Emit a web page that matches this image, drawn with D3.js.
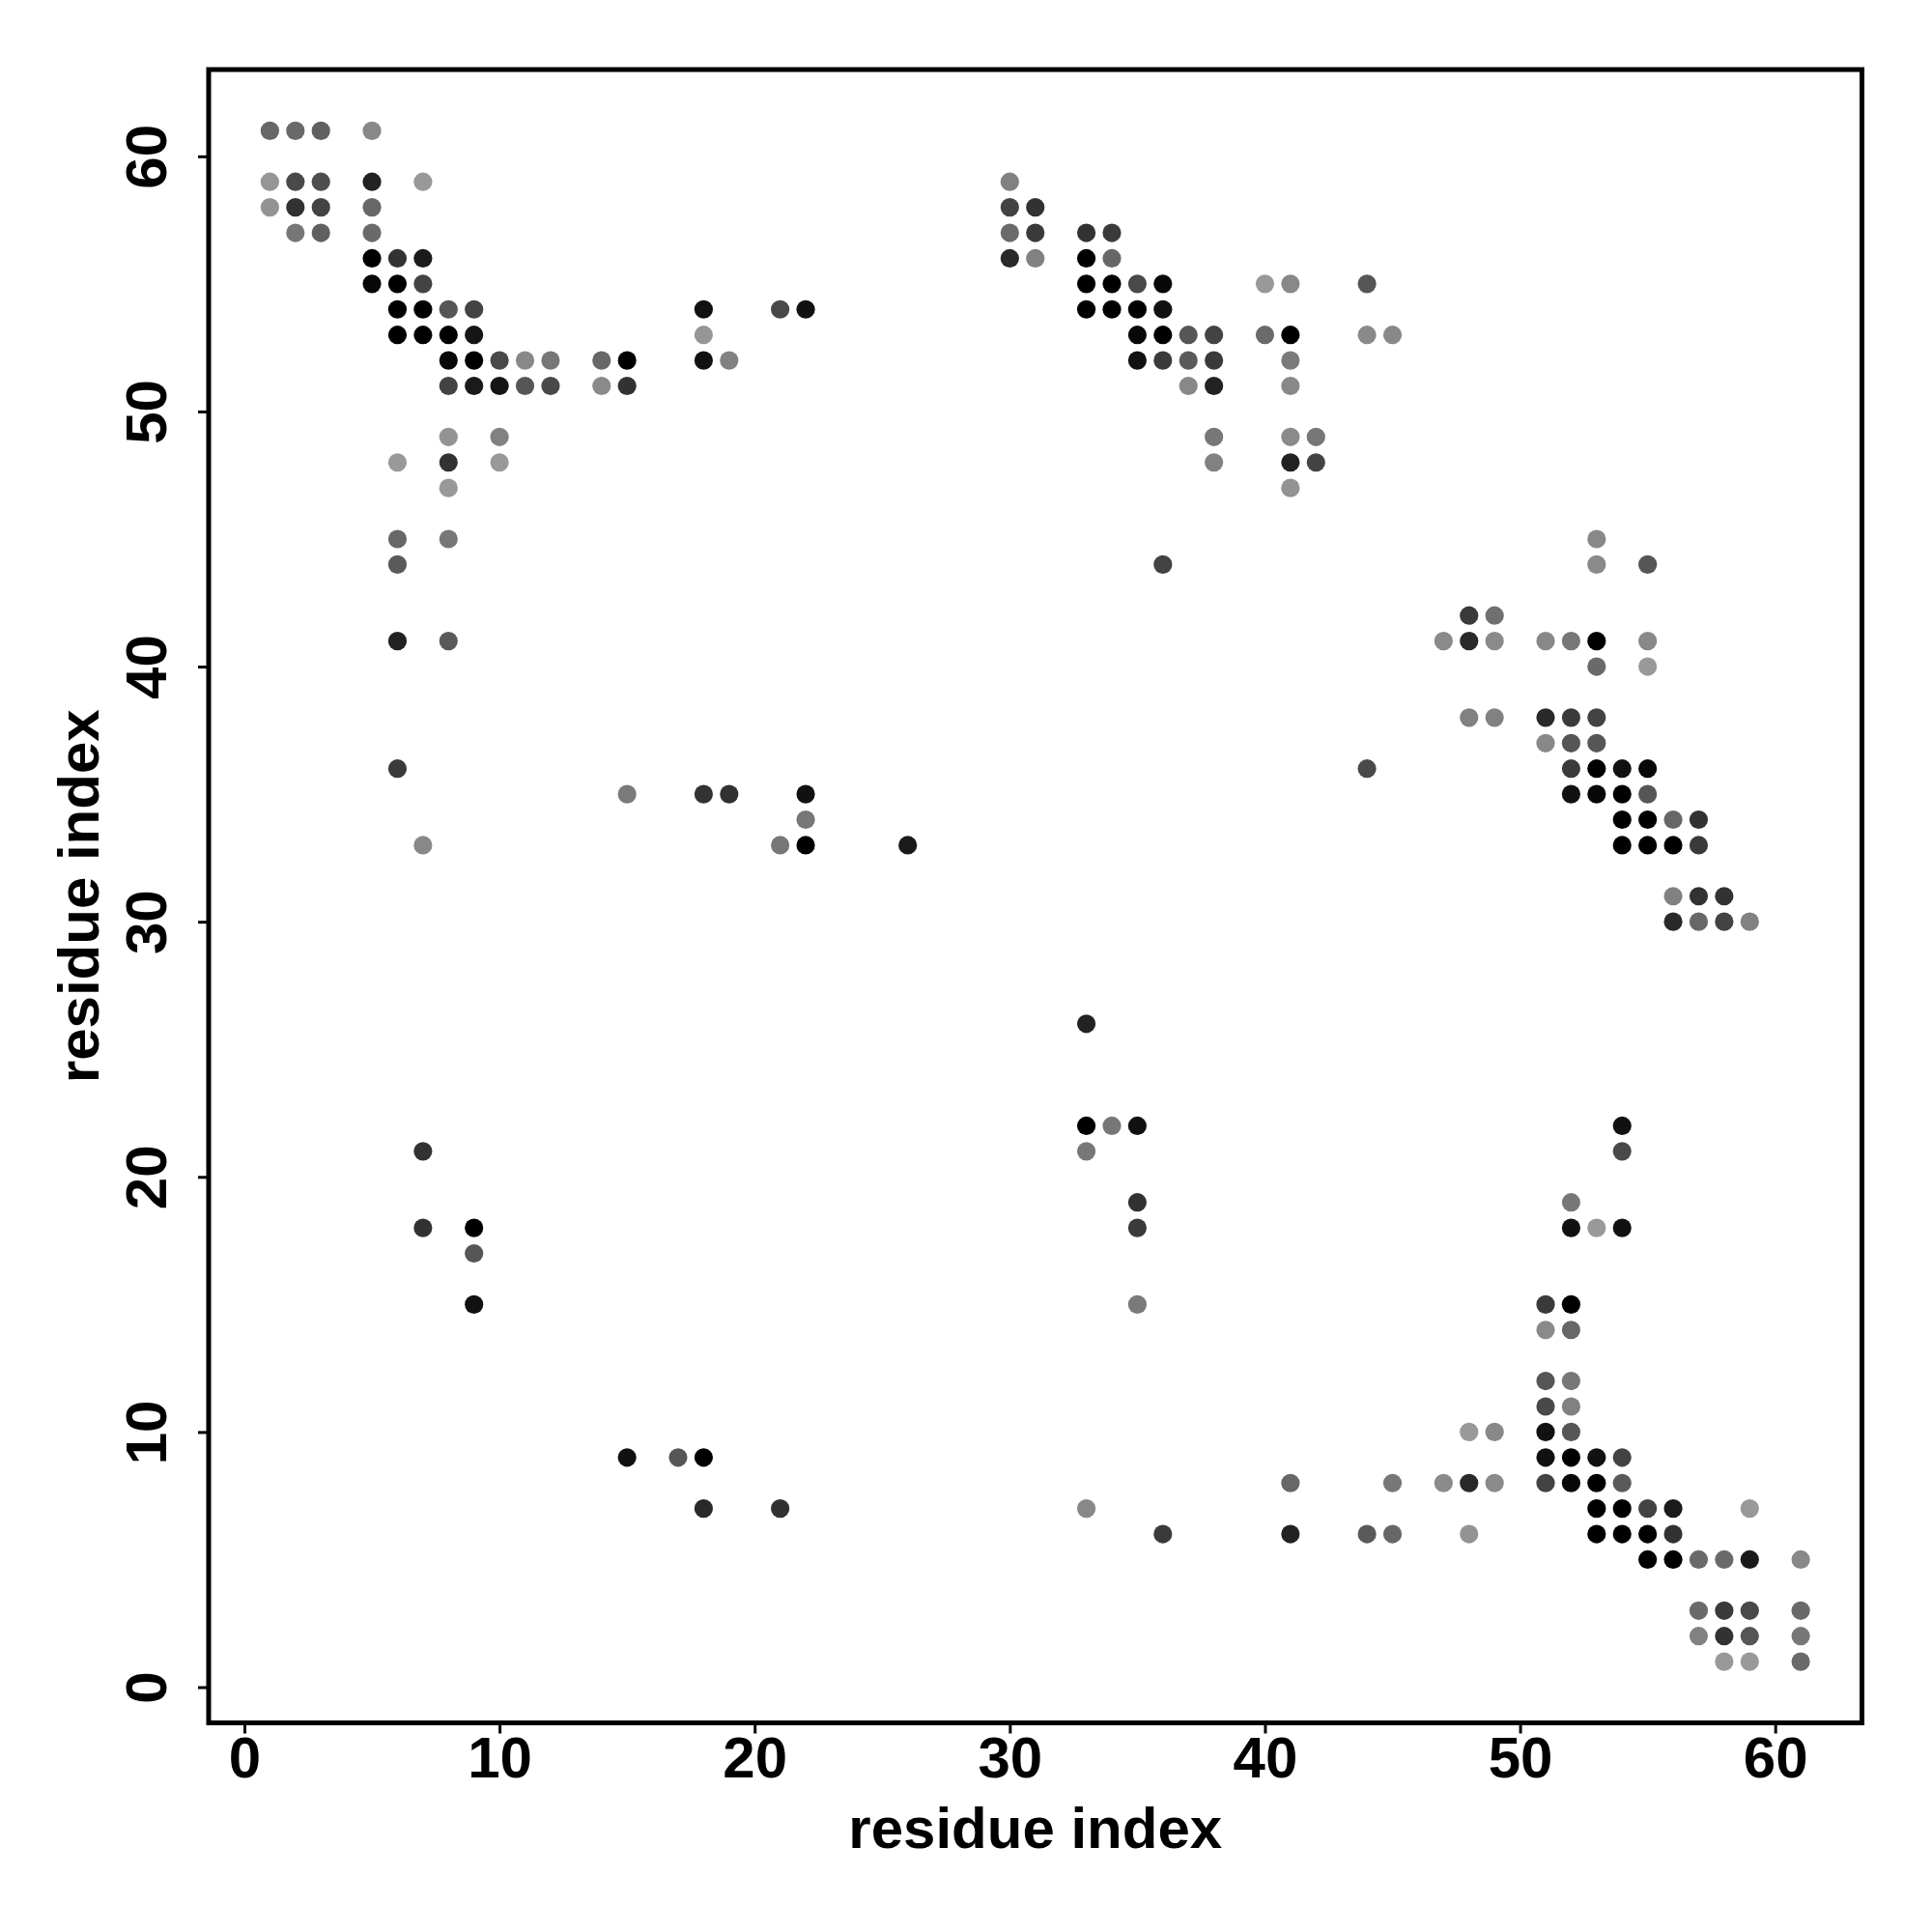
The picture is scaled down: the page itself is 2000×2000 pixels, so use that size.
<!DOCTYPE html>
<html>
<head>
<meta charset="utf-8">
<script src="https://cdn.jsdelivr.net/npm/d3@7"></script>
<style>
  html, body { margin: 0; padding: 0; background: #fff; }
  svg { display: block; }
</style>
</head>
<body>
<div id="chart"></div>
<script>
// ---- data: contact map (residue j rows, residue i columns, contact score 0..1) ----
const contactRows = [61, 59, 58, 57, 56, 55, 54, 53, 52, 51, 49, 48, 47, 45, 44, 42, 41, 40, 38, 37,
                     36, 35, 34, 33, 31, 30, 26, 22, 21, 19, 18, 17, 15, 14, 12, 11, 10, 9, 8, 7, 6, 5, 3, 2, 1];
const contactCols = [
  [1,2,3,5],
  [1,2,3,5,7,30],
  [1,2,3,5,30,31],
  [2,3,5,30,31,33,34],
  [5,6,7,30,31,33,34],
  [5,6,7,33,34,35,36,40,41,44],
  [6,7,8,9,18,21,22,33,34,35,36],
  [6,7,8,9,18,35,36,37,38,40,41,44,45],
  [8,9,10,11,12,14,15,18,19,35,36,37,38,41],
  [8,9,10,11,12,14,15,37,38,41],
  [8,10,38,41,42],
  [6,8,10,38,41,42],
  [8,41],
  [6,8,53],
  [6,36,53,55],
  [48,49],
  [6,8,47,48,49,51,52,53,55],
  [53,55],
  [48,49,51,52,53],
  [51,52,53],
  [6,44,52,53,54,55],
  [15,18,19,22,52,53,54,55],
  [22,54,55,56,57],
  [7,21,22,26,54,55,56,57],
  [56,57,58],
  [56,57,58,59],
  [33],
  [33,34,35,54],
  [7,33,54],
  [35,52],
  [7,9,35,52,53,54],
  [9],
  [9,35,51,52],
  [51,52],
  [51,52],
  [51,52],
  [48,49,51,52],
  [15,17,18,51,52,53,54],
  [41,45,47,48,49,51,52,53,54],
  [18,21,33,53,54,55,56,59],
  [36,41,44,45,48,53,54,55,56],
  [55,56,57,58,59,61],
  [57,58,59,61],
  [57,58,59,61],
  [58,59,61]
];
const contactScores = [
  [.33,.31,.37,.11],
  [.02,.52,.49,.78,0,.16],
  [.04,.67,.56,.33,.56,.67],
  [.22,.37,.31,.31,.62,.67,.62],
  [1,.67,.83,.73,.16,1,.33],
  [.95,1,.56,1,1,.52,.95,0,.11,.44],
  [1,1,.44,.56,.89,.52,.89,1,1,1,.89],
  [1,1,1,.86,.02,.95,1,.44,.56,.31,1,.1,.11],
  [.95,1,.52,.11,.22,.33,1,.89,.16,.89,.62,.41,.62,.2],
  [.56,.83,.86,.44,.52,.1,.67,.11,.78,.11],
  [.04,.16,.22,.1,.22],
  [0,.67,0,.16,.78,.56],
  [0,.04],
  [.33,.22,.11],
  [.41,.56,.1,.44],
  [.62,.27],
  [.78,.41,.1,.73,.1,.11,.22,1,.11],
  [.31,0],
  [.16,.16,.73,.62,.56],
  [.11,.44,.44],
  [.62,.52,.62,1,.89,.95],
  [.2,.67,.67,.89,.89,.95,1,.44],
  [.22,1,1,.33,.67],
  [.11,.22,1,.83,1,1,1,.62],
  [.16,.67,.67],
  [.73,.33,.56,.16],
  [.78],
  [1,.22,.89,.89],
  [.67,.22,.52],
  [.67,.22],
  [.67,1,.62,.89,0,.89],
  [.44],
  [.89,.2,.62,1],
  [.1,.33],
  [.44,.22],
  [.52,.16],
  [0,.11,.89,.44],
  [.89,.44,1,.89,1,.89,.56],
  [.33,.22,.1,.73,.1,.56,.95,1,.41],
  [.73,.67,.11,1,1,.56,.83,0],
  [.62,.78,.41,.33,.04,1,1,1,.67],
  [1,1,.31,.31,.83,.11],
  [.31,.62,.52,.31],
  [.16,.67,.44,.22],
  [0,0,.31]
];
const tickValues = [0, 10, 20, 30, 40, 50, 60];
const xTitle = "residue index";
const yTitle = "residue index";

(function () {
  // ---- build points ----
  const points = [];
  contactRows.forEach((j, r) => {
    contactCols[r].forEach((i, k) => points.push({ i: i, j: j, s: contactScores[r][k] }));
  });

  // ---- layout ----
  const W = 2000, H = 2000;
  const pLeft = 216, pRight = 1927.5, pTop = 72, pBottom = 1783.5;
  const font = "'Liberation Sans', Arial, Helvetica, sans-serif";

  const svg = d3.select("#chart").append("svg")
    .attr("width", W).attr("height", H)
    .attr("viewBox", `0 0 ${W} ${H}`);
  svg.append("rect").attr("width", W).attr("height", H).attr("fill", "#fff");

  const x = d3.scaleLinear().domain([-1.4, 63.4]).range([pLeft, pRight]);
  const y = d3.scaleLinear().domain([-1.4, 63.4]).range([pBottom, pTop]);
  const grey = d3.scaleLinear().domain([0, 1]).range(["#999999", "#000000"]);

  // points
  svg.append("g").selectAll("circle")
    .data(points)
    .join("circle")
    .attr("cx", d => x(d.i))
    .attr("cy", d => y(d.j))
    .attr("r", 9.6)
    .attr("fill", d => grey(d.s));

  // x axis
  const gx = svg.append("g")
    .attr("transform", `translate(0,${pBottom})`)
    .call(d3.axisBottom(x).tickValues(tickValues).tickSize(11).tickPadding(3).tickFormat(d3.format("d")));
  gx.select(".domain").remove();
  gx.selectAll(".tick line").attr("stroke", "#000").attr("stroke-width", 3);
  gx.selectAll(".tick text")
    .attr("fill", "#000")
    .style("font-family", font).style("font-weight", "bold").style("font-size", "60px");

  // y axis
  const gy = svg.append("g")
    .attr("transform", `translate(${pLeft},0)`)
    .call(d3.axisLeft(y).tickValues(tickValues).tickSize(11).tickFormat(d3.format("d")));
  gy.select(".domain").remove();
  gy.selectAll(".tick line").attr("stroke", "#000").attr("stroke-width", 3);
  gy.selectAll(".tick text")
    .attr("x", null).attr("dy", null)
    .attr("text-anchor", "middle")
    .attr("transform", "translate(-44,0) rotate(-90)")
    .attr("fill", "#000")
    .style("font-family", font).style("font-weight", "bold").style("font-size", "60px");

  // frame
  svg.append("rect")
    .attr("x", pLeft).attr("y", pTop)
    .attr("width", pRight - pLeft).attr("height", pBottom - pTop)
    .attr("fill", "none").attr("stroke", "#000").attr("stroke-width", 5);

  // titles
  svg.append("text")
    .attr("x", (pLeft + pRight) / 2).attr("y", 1913)
    .attr("text-anchor", "middle")
    .style("font-family", font).style("font-weight", "bold").style("font-size", "60px")
    .text(xTitle);
  svg.append("text")
    .attr("transform", `translate(102,${(pTop + pBottom) / 2}) rotate(-90)`)
    .attr("text-anchor", "middle")
    .style("font-family", font).style("font-weight", "bold").style("font-size", "60px")
    .text(yTitle);
})();
</script>
</body>
</html>
